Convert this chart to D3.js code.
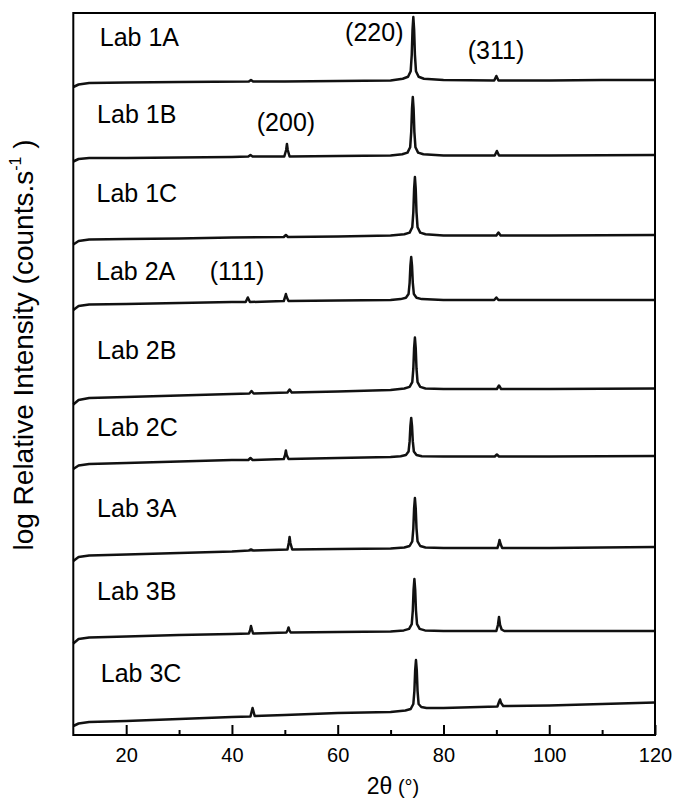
<!DOCTYPE html>
<html><head><meta charset="utf-8">
<script src="https://cdn.jsdelivr.net/npm/d3@7"></script>
<style>body{margin:0;background:#fff} text{font-family:"Liberation Sans",Arial,sans-serif;fill:#000}</style>
</head><body><svg id="c" width="676" height="806"></svg>
<script>
// categories
const labs = ["Lab 1A","Lab 1B","Lab 1C","Lab 2A","Lab 2B","Lab 2C","Lab 3A","Lab 3B","Lab 3C"];
// series values: [2theta (deg), stacked log intensity (arb. units)]
const lab1A = [[10,648],[11,650.5],[13,652],[20,652.5],[30,653],[43.2,653.5],[43.6,655],[44,653.5],[50,653.5],[60,654],[70,654.5],
  [72.3,656.3],[73.3,658.2],[73.8,663.8],[74.0,680.2],[74.15,705.4],[74.3,718],[74.45,705.4],[74.6,680.2],[74.8,663.8],[75.3,658.2],[76.3,656.3],
  [80,655],[89.6,654.5],[90.0,659],[90.4,654.5],[100,654.5],[110,655],[120,655]];
const lab1B = [[10,573.5],[11,576],[13,577],[20,577],[30,577.5],[40,578],[43.1,578.5],[43.5,580],[43.9,578.5],[49.9,578.5],[50.25,585],[50.4,591],[50.55,585],[50.9,578.5],[60,579],[70,579.5],
  [72.2,580.7],[73.2,582.4],[73.7,587.7],[73.9,602.9],[74.05,626.3],[74.2,638],[74.35,626.3],[74.5,602.9],[74.7,587.7],[75.2,582.4],[76.2,580.7],
  [80,579.5],[89.7,579.5],[90.1,584],[90.5,579.5],[100,579.5],[120,580]];
const lab1C = [[10,490.5],[11,494],[13,495.5],[20,496],[30,496.5],[40,497.5],[49.8,498],[50.2,500],[50.6,498],[60,498.5],[70,499.5],
  [72.6,500.7],[73.6,502.4],[74.1,507.7],[74.3,522.9],[74.45,546.3],[74.6,558],[74.75,546.3],[74.9,522.9],[75.1,507.7],[75.6,502.4],[76.6,500.7],
  [80,499.5],[90.0,499.5],[90.4,502.5],[90.8,499.5],[100,499.5],[120,500]];
const lab2A = [[10,425],[11,429],[13,430.5],[20,431],[30,432],[40,433],[42.6,433],[43.0,437.5],[43.4,433],[49.8,434],[50.05,438],[50.2,441],[50.35,438],[50.7,434],[60,434.5],[70,435],
  [71.9,435.9],[72.9,437.2],[73.4,441],[73.6,452.2],[73.75,469.4],[73.9,478],[74.05,469.4],[74.2,452.2],[74.4,441],[74.9,437.2],[75.9,435.9],
  [80,435],[89.6,435],[90.0,437.5],[90.4,435],[100,435],[120,435]];
const lab2B = [[10,330.5],[11,335],[13,337],[20,338],[30,339.5],[40,341],[43.3,341.5],[43.7,344],[44.1,341.5],[50.5,342.5],[50.9,345.5],[51.3,342.5],[60,343.5],[70,345],
  [72.6,346.5],[73.6,348.1],[74.1,352.8],[74.3,366.3],[74.45,387.1],[74.6,397.5],[74.75,387.1],[74.9,366.3],[75.1,352.8],[75.6,348.1],[76.6,346.5],
  [80,346],[90.1,346],[90.5,349.5],[90.9,346],[100,346],[120,346.5]];
const lab2C = [[10,266],[11,269.5],[13,271],[20,272],[30,273.5],[40,275],[43.1,275],[43.5,277],[43.9,275],[49.8,276],[50.05,280],[50.2,284.5],[50.35,280],[50.7,276],[60,277],[70,278],
  [71.9,278.8],[72.9,280],[73.4,283.5],[73.6,293.6],[73.75,309.2],[73.9,317],[74.05,309.2],[74.2,293.6],[74.4,283.5],[74.9,280],[75.9,278.8],
  [80,278.5],[89.7,278.5],[90.1,280.5],[90.5,278.5],[100,278.5],[120,279]];
const lab3A = [[10,174],[11,178],[13,179.5],[20,180.5],[30,182],[40,183.5],[43.2,184.5],[43.6,185.5],[44.0,184.5],[50.5,185.5],[50.75,192],[50.9,198],[51.05,192],[51.4,185.5],[60,186],[70,186.5],
  [72.6,187.5],[73.6,189],[74.1,193.6],[74.3,206.7],[74.45,226.9],[74.6,237],[74.75,226.9],[74.9,206.7],[75.1,193.6],[75.6,189],[76.6,187.5],
  [80,187],[90.2,187],[90.45,191],[90.6,195],[90.8,191],[91.1,187],[100,187],[110,187.5],[120,188]];
const lab3B = [[10,91.5],[11,96],[13,97.5],[20,98.5],[30,100],[40,101],[43.2,101.5],[43.45,105],[43.6,109],[43.8,105],[44.0,101.5],[50.3,102.5],[50.55,105],[50.7,107.5],[50.85,105],[51.1,102.5],[60,103],[70,103.5],
  [72.5,104.6],[73.5,106.1],[74.0,110.9],[74.2,124.5],[74.35,145.5],[74.5,156],[74.65,145.5],[74.8,124.5],[75.0,110.9],[75.5,106.1],[76.5,104.6],
  [80,104],[90.0,104],[90.3,110],[90.5,118],[90.7,110],[91.0,105.5],[91.5,104],[100,104],[120,104]];
const lab3C = [[10,9],[11,11.5],[13,13],[20,14],[30,16],[40,18],[43.5,18.5],[43.9,27],[44.3,19],[50,20],[60,22],[70,23],
  [72.8,24.5],[73.8,26],[74.3,31],[74.5,44],[74.65,65],[74.8,75],[74.95,65],[75.1,44],[75.3,31],[75.8,28],[76.8,27],
  [80,27],[90.2,28.5],[90.5,33],[90.7,35.5],[90.9,32],[91.3,29],[100,29.5],[110,31],[120,32.5]];
const seriesValues = [lab1A, lab1B, lab1C, lab2A, lab2B, lab2C, lab3A, lab3B, lab3C];
// label anchors in data units
const labAnchors = [[15.0,689],[14.5,612],[14.4,533],[14.3,455],[14.5,376],[14.5,299],[14.5,218.5],[14.5,135],[15.2,53.5]];
const hklText = ["(220)","(311)","(200)","(111)"];
const hklAnchors = [[61.4,694],[84.6,676],[44.7,604],[35.8,455]];
// tick labels
const xMajorTicks = [20,40,60,80,100,120];
const xMinorTicks = [30,50,70,90,110];

const svg = d3.select("#c");
const m = {l:73.3, r:655, t:13, b:735};
const x = d3.scaleLinear().domain([10,120]).range([m.l,m.r]);
const y = d3.scaleLinear().domain([0,722]).range([m.b,m.t]);

// traces
const line = d3.line().x(d=>x(d[0])).y(d=>y(d[1]));
svg.append("g").selectAll("path").data(seriesValues).join("path")
  .attr("d", line).attr("fill","none").attr("stroke","#111")
  .attr("stroke-width",2.5).attr("stroke-linejoin","round");

// axes
const gMaj = svg.append("g").attr("transform",`translate(0,${m.b})`)
  .call(d3.axisBottom(x).tickValues(xMajorTicks).tickSize(-10).tickPadding(13).tickFormat(d3.format("d")));
gMaj.select(".domain").remove();
gMaj.selectAll("line").attr("stroke","#000").attr("stroke-width",2);
gMaj.selectAll("text").attr("font-size",20).attr("font-family","Liberation Sans, Arial, sans-serif");
const gMin = svg.append("g").attr("transform",`translate(0,${m.b})`)
  .call(d3.axisBottom(x).tickValues(xMinorTicks).tickSize(-5).tickFormat(""));
gMin.select(".domain").remove();
gMin.selectAll("line").attr("stroke","#000").attr("stroke-width",2);

// frame
svg.append("rect").attr("x",m.l).attr("y",m.t).attr("width",m.r-m.l).attr("height",m.b-m.t)
  .attr("fill","none").attr("stroke","#000").attr("stroke-width",2);

// lab labels
svg.append("g").selectAll("text").data(labs).join("text")
  .attr("x",(d,i)=>x(labAnchors[i][0])).attr("y",(d,i)=>y(labAnchors[i][1]))
  .attr("font-size",25).text(d=>d);
svg.append("g").selectAll("text").data(hklText).join("text")
  .attr("x",(d,i)=>x(hklAnchors[i][0])).attr("y",(d,i)=>y(hklAnchors[i][1]))
  .attr("font-size",25).text(d=>d);

// axis titles
const xt = svg.append("text").attr("x",393).attr("y",794).attr("text-anchor","middle");
xt.append("tspan").attr("font-size",23).text("2θ");
xt.append("tspan").attr("font-size",20).text(" (°)");
const yt = svg.append("text").attr("transform","translate(33,345) rotate(-90)").attr("text-anchor","middle").attr("font-size",28);
yt.append("tspan").text("log Relative Intensity (counts.s");
yt.append("tspan").attr("font-size",16).attr("dy",-12).text("-1");
yt.append("tspan").attr("dy",12).text(" )");
</script></body></html>
